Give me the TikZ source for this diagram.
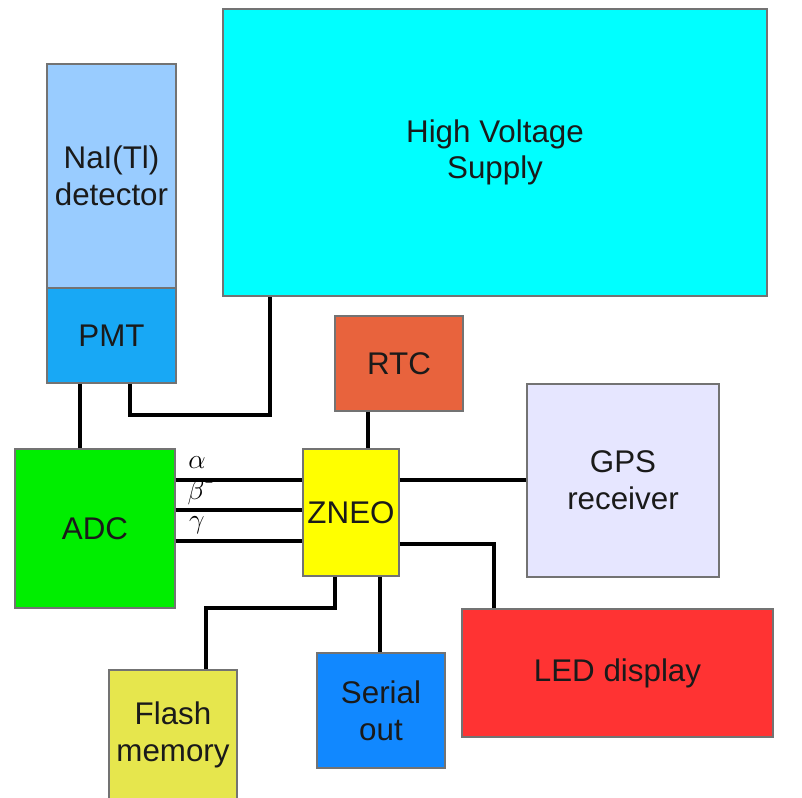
\documentclass[tikz,border=0pt]{standalone}
\usepackage{fontspec}
\setmainfont{Liberation Sans}
\definecolor{naic}{HTML}{99CCFF}
\definecolor{pmtc}{HTML}{18A8F5}
\definecolor{hvc}{HTML}{00FFFF}
\definecolor{rtcc}{HTML}{E8633D}
\definecolor{gpsc}{HTML}{E6E6FF}
\definecolor{adcc}{HTML}{00EE00}
\definecolor{zneoc}{HTML}{FFFF00}
\definecolor{ledc}{HTML}{FF3333}
\definecolor{serc}{HTML}{1188FF}
\definecolor{flashc}{HTML}{E6E64D}
\definecolor{txtc}{HTML}{1A1A1A}
\tikzset{
  blk/.style={draw=black!55, line width=0.8pt, inner sep=0pt, align=center,
    text=txtc, font=\fontsize{23.5}{27.5}\selectfont},
  wire/.style={line width=2.5pt, black},
  glab/.style={inner sep=0pt, font=\fontsize{21}{24}\selectfont}
}
\begin{document}
\begin{tikzpicture}[x=0.75pt,y=-0.75pt]
\useasboundingbox (0,0) rectangle (802,797);
\clip (0,0) rectangle (802,797);
\node[blk, fill=naic, minimum width=96.75pt, minimum height=168pt] (nai) at (111.5,176) {NaI(Tl)\\detector};
\node[blk, fill=pmtc, minimum width=96.75pt, minimum height=71.25pt] (pmt) at (111.5,335.5) {PMT};
\node[blk, fill=hvc, minimum width=408pt, minimum height=215.25pt] (hv) at (495,152.5) {High Voltage\\Supply};
\node[blk, fill=rtcc, minimum width=96pt, minimum height=71.25pt] (rtc) at (399,363.5) {RTC};
\node[blk, fill=gpsc, minimum width=144pt, minimum height=144.75pt] (gps) at (623,480.5) {GPS\\receiver};
\node[blk, fill=adcc, minimum width=120pt, minimum height=119.25pt] (adc) at (95,528.5) {ADC};
\node[blk, fill=zneoc, minimum width=72pt, minimum height=95.25pt] (zneo) at (351,512.5) {ZNEO};
\node[blk, fill=ledc, minimum width=233.25pt, minimum height=96pt] (led) at (617.5,673) {LED display};
\node[blk, fill=serc, minimum width=96pt, minimum height=86.25pt] (ser) at (381,710.5) {Serial\\out};
\node[blk, fill=flashc, minimum width=96pt, minimum height=97.5pt] (flash) at (173,735) {Flash\\memory};

% connectors
\draw[wire] (pmt.south -| 80,0) -- (adc.north -| 80,0);
\draw[wire] (pmt.south -| 130,0) -- (130,415) -| (hv.south -| 270,0);
\draw[wire] (rtc.south -| 368,0) -- (zneo.north -| 368,0);
\draw[wire] (adc.east |- 0,480) -- (zneo.west |- 0,480);
\draw[wire] (adc.east |- 0,510) -- (zneo.west |- 0,510);
\draw[wire] (adc.east |- 0,541) -- (zneo.west |- 0,541);
\draw[wire] (zneo.east |- 0,480) -- (gps.west |- 0,480);
\draw[wire] (zneo.east |- 0,544) -| (led.north -| 494,0);
\draw[wire] (zneo.south -| 335,0) -- (335,608) -| (flash.north -| 206,0);
\draw[wire] (zneo.south -| 380,0) -- (ser.north -| 380,0);

% labels
\node[glab] (la) at (197,463) {$\alpha$};
\node[glab] (lb) at (201,493) {$\beta^{\mbox{-}}$};
\node[glab] (lg) at (197,525) {$\gamma$};
\end{tikzpicture}
\end{document}
